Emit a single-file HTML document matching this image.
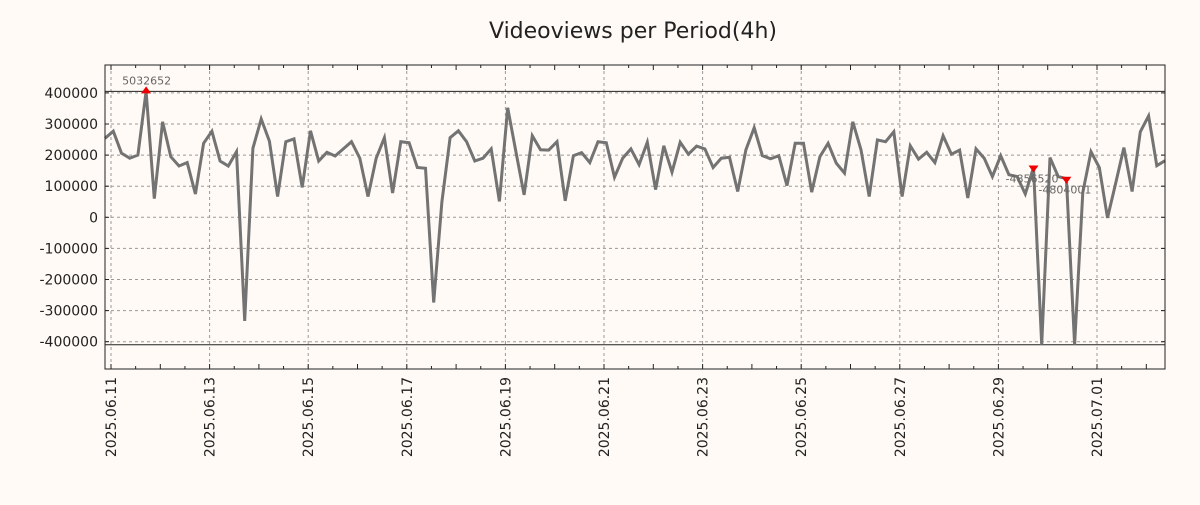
<!DOCTYPE html>
<html><head><meta charset="utf-8"><style>
body{margin:0;background:#fffaf5;}
svg text{font-family:"DejaVu Sans","Liberation Sans",sans-serif;}
</style></head><body>
<svg id="chart" width="1200" height="500" xmlns="http://www.w3.org/2000/svg">
<rect x="0" y="0" width="1200" height="500" fill="#fffaf5"/>
<text x="633" y="38" font-size="22" text-anchor="middle" fill="#222">Videoviews per Period(4h)</text>
<g id="grid"></g>
<g id="series"></g>
<g id="axes"></g>
</svg>
<script>
const values = [254000,277000,206000,190000,200000,405000,60000,307000,195000,165000,176000,75000,238000,277000,181000,165000,211000,-333000,222000,316000,245000,67000,243000,252000,96000,278000,181000,209000,197000,220000,243000,190000,67000,190000,256000,78000,243000,240000,160000,158000,-274000,50000,256000,278000,
243000,181000,190000,220000,51000,352000,211000,72000,262000,217000,216000,243000,53000,198000,208000,176000,243000,240000,129000,190000,220000,169000,241000,89000,230000,145000,241000,203000,229000,220000,160000,190000,193000,83000,217000,288000,198000,188000,198000,102000,238000,238000,
81000,195000,238000,174000,142000,307000,217000,67000,249000,243000,275000,67000,230000,187000,209000,176000,262000,203000,216000,62000,220000,190000,131000,198000,137000,131000,75000,160000,-410000,192000,131000,124000,-410000,80000,211000,160000,-2000,110000,224000,83000,275000,326000,166000,182000];
const yTicks = [400000,300000,200000,100000,0,-100000,-200000,-300000,-400000];
const yTickLabels = ["400000","300000","200000","100000","0","-100000","-200000","-300000","-400000"];
const xTickDays = [0,2,4,6,8,10,12,14,16,18,20];
const xTickLabels = ["2025.06.11","2025.06.13","2025.06.15","2025.06.17","2025.06.19","2025.06.21","2025.06.23","2025.06.25","2025.06.27","2025.06.29","2025.07.01"];
const limitValues = [405000,-410000];
const annotations = [{i:5,label:"5032652",up:true},{i:113,label:"-4856520",up:false},{i:117,label:"-4804001",up:false}];
const stepHours = 4, startHour = -2.9;

const NS="http://www.w3.org/2000/svg";
const L=105,R=1165,T=65,B=369;
const y0=217.3, pxPer=31.1/100000;
function yS(v){return y0 - v*pxPer;}
function xS(h){return 111 + h*49.3/24;}
function mk(tag,attrs,parent){const e=document.createElementNS(NS,tag);for(const k in attrs)e.setAttribute(k,attrs[k]);parent.appendChild(e);return e;}
const grid=document.getElementById('grid'),ser=document.getElementById('series'),axes=document.getElementById('axes');

yTicks.forEach((v,k)=>{
  const y=yS(v);
  const g=mk('line',{x1:L,x2:R,y1:y,y2:y,stroke:'#999','stroke-dasharray':'3,3','stroke-width':1},grid);
  
  
  const t=mk('text',{x:L-7,y:y+5,'font-size':14,'text-anchor':'end',fill:'#222'},axes);
  t.textContent=yTickLabels[k];
  
  
  mk('line',{x1:L,x2:L+4,y1:y,y2:y,stroke:'#222'},axes);
  mk('line',{x1:R-4,x2:R,y1:y,y2:y,stroke:'#222'},axes);
});
for(let d=0;d<=21;d+=0.5){
  const x=xS(d*24); if(x<L||x>R) continue;
  const len=(d%1===0)?5:3;
  mk('line',{x1:x,x2:x,y1:B,y2:B-len,stroke:'#222'},axes);
  mk('line',{x1:x,x2:x,y1:T,y2:T+len,stroke:'#222'},axes);
}
xTickDays.forEach((d,k)=>{
  const x=xS(d*24);
  const g=mk('line',{x1:x,x2:x,y1:T,y2:B,stroke:'#999','stroke-dasharray':'3,3','stroke-width':1},grid);
  
  
  const t=mk('text',{x:0,y:0,'font-size':14,'text-anchor':'end',fill:'#222',transform:`translate(${x+5},377) rotate(-90)`},axes);
  t.textContent=xTickLabels[k];
  
  
});
limitValues.forEach(v=>{
  const l=mk('line',{x1:L,x2:R,y1:yS(v),y2:yS(v),stroke:'#222','stroke-width':1},grid);
  
  
});
const pts=values.map((v,i)=>[xS(startHour+i*stepHours),yS(v)]);
const pl=mk('polyline',{points:pts.map(p=>p[0].toFixed(1)+','+p[1].toFixed(1)).join(' '),fill:'none',stroke:'#737373','stroke-width':3,'stroke-linejoin':'miter'},ser);


annotations.forEach(a=>{
  const [x,y]=pts[a.i];
  const tri=a.up?`${x-5},${y+2} ${x+5},${y+2} ${x},${y-5}`:`${x-5},${y-2} ${x+5},${y-2} ${x},${y+5}`;
  const m=mk('polygon',{points:tri,fill:'#ee0000'},ser);
  
  
  const t=mk('text',{x:a.up?x-24:x-28,y:a.up?y-7:y+15,'font-size':11,fill:'#666','font-family':'Liberation Mono, monospace'},ser);
  t.textContent=a.label;
  
  
});
const fr=mk('rect',{x:L,y:T,width:R-L,height:B-T,fill:'none',stroke:'#222','stroke-width':1},axes);


</script>
</body></html>
